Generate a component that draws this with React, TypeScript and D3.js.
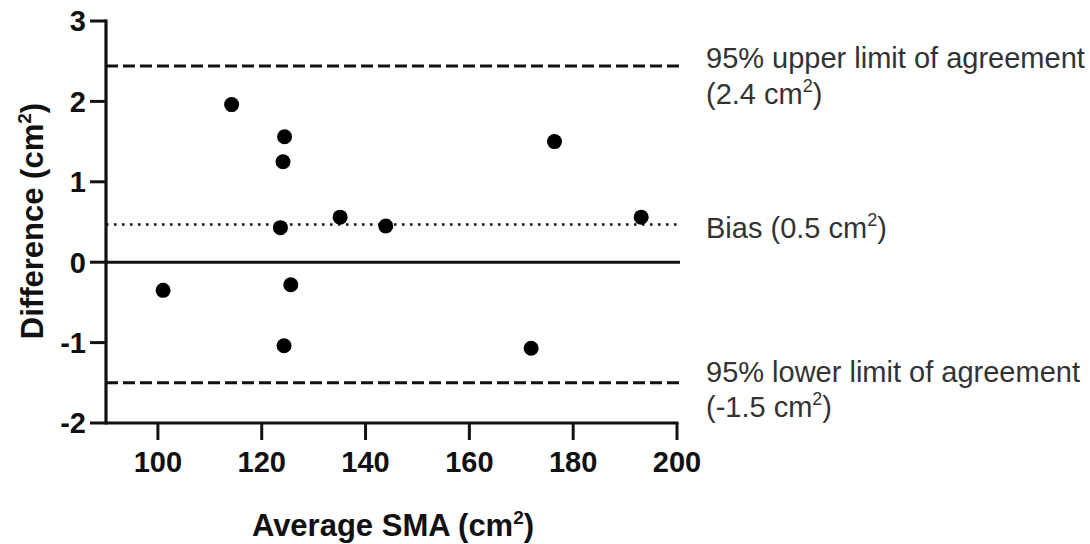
import React from "react";
import * as d3 from "d3";

const width = 1090;
const height = 544;
const margin = { top: 21, right: 413, bottom: 121, left: 106 };

// Bland-Altman points: average SMA (cm2) vs difference (cm2)
const averages = [101.0, 114.2, 124.4, 124.1, 123.6, 135.1, 143.9, 125.6, 124.3, 171.9, 176.4, 193.1];
const differences = [-0.35, 1.96, 1.56, 1.25, 0.43, 0.56, 0.45, -0.28, -1.04, -1.07, 1.5, 0.56];

const xTicks = [100, 120, 140, 160, 180, 200];
const yTicks = [-2, -1, 0, 1, 2, 3];

const bias = 0.47;
const upperLoA = 2.44;
const lowerLoA = -1.5;

const upperLabel = ["95% upper limit of agreement", "(2.4 cm", ")"];
const biasLabel = ["Bias (0.5 cm", ")"];
const lowerLabel = ["95% lower limit of agreement", "(-1.5 cm", ")"];

const font = "'Liberation Sans', Arial, Helvetica, sans-serif";

export default function App() {
  const x = d3.scaleLinear().domain([90, 200]).range([margin.left, width - margin.right]);
  const y = d3.scaleLinear().domain([-2, 3]).range([height - margin.bottom, margin.top]);

  const points = averages.map((a, i) => ({ cx: x(a), cy: y(differences[i]) }));
  const lineEnd = x(200) + 3;
  const x0 = x(90);
  const axisY = y(-2);

  const refLine = (v: number, dash: string | undefined, w: number) => (
    <line x1={x0} x2={lineEnd} y1={y(v)} y2={y(v)} stroke="#111" strokeWidth={w} strokeDasharray={dash} />
  );

  const sup = (s: string, size = 18) => (
    <tspan fontSize={size} dy={-12}>{s}</tspan>
  );
  const after = (s: string) => <tspan dy={12}>{s}</tspan>;

  const annX = 706;

  return (
    <svg width={width} height={height} style={{ position: "absolute", left: 0, top: 0, background: "#fff" }} fontFamily={font}>
      {/* reference lines */}
      {refLine(upperLoA, "12 5", 3)}
      {refLine(lowerLoA, "12 5", 3)}
      {refLine(bias, "2.5 5.5", 2.5)}
      {refLine(0, undefined, 3)}

      {/* axes */}
      <line x1={x0} x2={x0} y1={y(3) - 1.5} y2={axisY + 1.5} stroke="#111" strokeWidth={3.2} />
      <line x1={x0} x2={x(200) + 1.5} y1={axisY} y2={axisY} stroke="#111" strokeWidth={3.2} />
      {yTicks.map(t => (
        <g key={"y" + t}>
          <line x1={x0 - 16} x2={x0} y1={y(t)} y2={y(t)} stroke="#111" strokeWidth={3} />
          <text x={86} y={y(t)} dy="0.36em" textAnchor="end" fontSize={29} fontWeight="bold" fill="#111">{t}</text>
        </g>
      ))}
      {xTicks.map(t => (
        <g key={"x" + t}>
          <line x1={x(t)} x2={x(t)} y1={axisY} y2={axisY + 17} stroke="#111" strokeWidth={3} />
          <text x={x(t)} y={472} textAnchor="middle" fontSize={29} fontWeight="bold" fill="#111">{t}</text>
        </g>
      ))}

      {/* points */}
      {points.map((p, i) => (
        <circle key={i} cx={p.cx} cy={p.cy} r={7.5} fill="#000" />
      ))}

      {/* axis titles */}
      <text x={393} y={536} textAnchor="middle" fontSize={31} fontWeight="bold" fill="#111">
        Average SMA (cm{sup("2", 19)}{after(")")}
      </text>
      <text transform={`translate(43,221) rotate(-90)`} textAnchor="middle" fontSize={31} fontWeight="bold" fill="#111">
        Difference (cm{sup("2", 19)}{after(")")}
      </text>

      {/* annotations */}
      <g fontSize={29} fill="#333">
        <text x={annX} y={68}>{upperLabel[0]}</text>
        <text x={annX} y={104}>{upperLabel[1]}{sup("2")}{after(upperLabel[2])}</text>
        <text x={annX} y={238}>{biasLabel[0]}{sup("2")}{after(biasLabel[1])}</text>
        <text x={annX} y={382}>{lowerLabel[0]}</text>
        <text x={annX} y={417}>{lowerLabel[1]}{sup("2")}{after(lowerLabel[2])}</text>
      </g>
    </svg>
  );
}
